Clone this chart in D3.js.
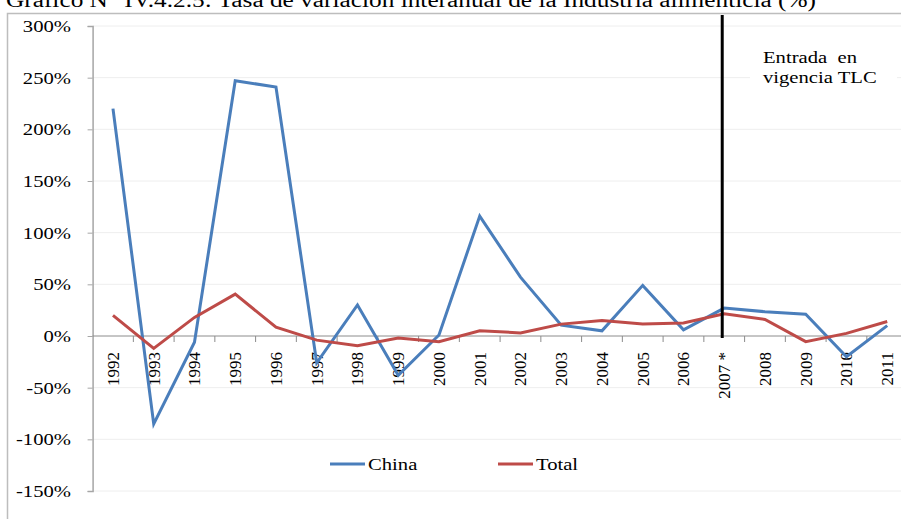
<!DOCTYPE html>
<html>
<head>
<meta charset="utf-8">
<script src="https://cdn.jsdelivr.net/npm/d3@7"></script>
<style>
  body { margin: 0; background: #fff; }
  svg { display: block; font-family: "Liberation Serif", "Times New Roman", serif; }
</style>
</head>
<body>
<svg width="901" height="519"></svg>
<script>
// Data
var years = ["1992", "1993", "1994", "1995", "1996", "1997", "1998", "1999", "2000", "2001",
             "2002", "2003", "2004", "2005", "2006", "2007 *", "2008", "2009", "2010", "2011"];
var china = [220, -85, -6, 247, 241, -26, 30, -38, 1, 116, 57, 10.5, 5, 49, 6, 27, 23.5, 21, -20, 10];
var total = [20, -12, 18, 40.5, 8.5, -4, -9.5, -2, -5.5, 5, 3, 11.5, 15, 11.5, 12.5, 21.5, 16, -5.5, 2.5, 14];
var yTicks = [300, 250, 200, 150, 100, 50, 0, -50, -100, -150];
var seriesNames = ["China", "Total"];
var colors = ["#4a7ebb", "#be4b48"];
var tlcYear = "2007 *";

var svg = d3.select("svg"),
    width = +svg.attr("width"),
    height = +svg.attr("height");

var stretch = 1.18; // horizontal text looks stretched in the reference

// scales
var x = d3.scaleBand().domain(years).range([92.6, 907.6]).padding(0);
var y = d3.scaleLinear().domain([-150, 300]).range([491, 26]);
var cx = function(d) { return x(d) + x.bandwidth() / 2; };

// title (cut at the top in the reference)
svg.append("text")
    .attr("x", 6).attr("y", 7)
    .attr("font-size", 20)
    .attr("textLength", 810)
    .attr("lengthAdjust", "spacingAndGlyphs")
    .attr("fill", "#000")
    .text("Grafico N° IV.4.2.5: Tasa de variación interanual de la Industria alimenticia (%)");

// outer chart border
svg.append("path")
    .attr("d", "M7.5," + height + "V13.5H" + width)
    .attr("fill", "none")
    .attr("stroke", "#bdbdbd")
    .attr("stroke-width", 1.5);

// gridlines
svg.append("g")
    .selectAll("line")
    .data(yTicks.filter(function(d) { return d !== 0; }))
    .enter().append("line")
    .attr("x1", 92.6).attr("x2", width)
    .attr("y1", function(d) { return y(d); })
    .attr("y2", function(d) { return y(d); })
    .attr("stroke", "#eeeeee")
    .attr("stroke-width", 1);

// y axis
var yAxis = svg.append("g")
    .attr("transform", "translate(92.6,0)")
    .call(d3.axisLeft(y).tickValues(yTicks).tickSize(5).tickFormat(""));
yAxis.select(".domain").attr("stroke", "#a6a6a6").attr("stroke-width", 1.5);
yAxis.selectAll(".tick line").attr("stroke", "#a6a6a6");

yTicks.forEach(function(t) {
    svg.append("text")
        .attr("transform", "translate(71," + y(t) + ") scale(" + stretch + ",1)")
        .attr("text-anchor", "end")
        .attr("dy", "0.35em")
        .attr("font-size", 17.5)
        .text(t + "%");
});

// zero line and category ticks
svg.append("line")
    .attr("x1", 92.6).attr("x2", width)
    .attr("y1", y(0)).attr("y2", y(0))
    .attr("stroke", "#8c8c8c").attr("stroke-width", 1);

svg.append("g")
    .selectAll("line")
    .data(years.slice(1))
    .enter().append("line")
    .attr("x1", function(d) { return x(d); })
    .attr("x2", function(d) { return x(d); })
    .attr("y1", y(0)).attr("y2", y(0) + 6)
    .attr("stroke", "#8c8c8c");

// x labels, rotated
svg.append("g")
    .selectAll("text")
    .data(years)
    .enter().append("text")
    .attr("transform", function(d) { return "translate(" + cx(d) + ",352) rotate(-90)"; })
    .attr("text-anchor", "end")
    .attr("dy", "0.35em")
    .attr("font-size", 17)
    .text(function(d) { return d; });

// lines
var line = d3.line()
    .x(function(d, i) { return cx(years[i]); })
    .y(function(d) { return y(d); });

[china, total].forEach(function(s, i) {
    svg.append("path")
        .datum(s)
        .attr("fill", "none")
        .attr("stroke", colors[i])
        .attr("stroke-width", 3)
        .attr("stroke-linejoin", "miter")
        .attr("d", line);
});

// TLC marker
var tx = cx(tlcYear) - 2;
svg.append("line")
    .attr("x1", tx).attr("x2", tx)
    .attr("y1", 15).attr("y2", y(0) + 2)
    .attr("stroke", "#000")
    .attr("stroke-width", 3);

svg.append("rect")
    .attr("x", 750).attr("y", 44).attr("width", 147).attr("height", 46)
    .attr("fill", "#fff");

[["Entrada\u00a0\u00a0en", 63], ["vigencia TLC", 83]].forEach(function(l) {
    svg.append("text")
        .attr("transform", "translate(763," + l[1] + ") scale(" + stretch + ",1)")
        .attr("font-size", 17.5)
        .text(l[0]);
});

// legend
var legendX = [330, 498];
seriesNames.forEach(function(n, i) {
    svg.append("line")
        .attr("x1", legendX[i]).attr("x2", legendX[i] + 35)
        .attr("y1", 464).attr("y2", 464)
        .attr("stroke", colors[i])
        .attr("stroke-width", 3);
    svg.append("text")
        .attr("transform", "translate(" + (legendX[i] + 38) + ",464) scale(" + stretch + ",1)")
        .attr("dy", "0.35em")
        .attr("font-size", 17.5)
        .text(n);
});
</script>
</body>
</html>
